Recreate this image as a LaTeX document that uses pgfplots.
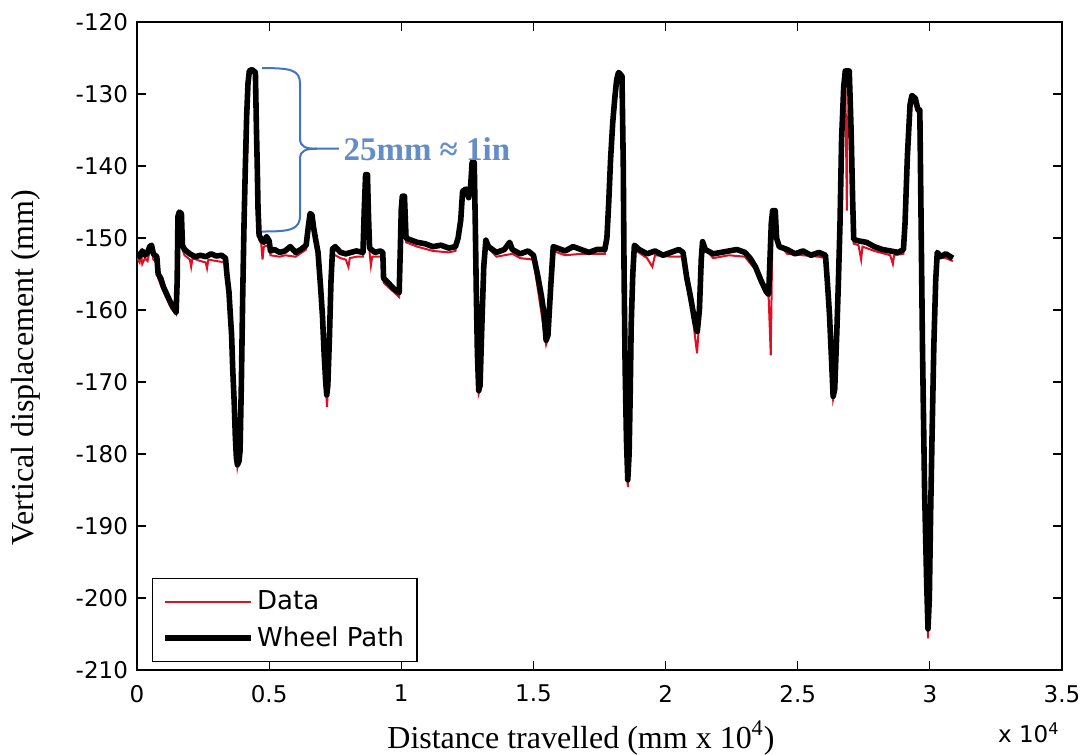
\documentclass[border=0pt]{standalone}
\usepackage{fontspec}
\setmainfont{Liberation Serif}
\newfontfamily\ticksf{DejaVu Sans}
\usepackage{pgfplots}
\usepackage{pgfplotstable}
\pgfplotsset{compat=1.18}
\definecolor{bracecol}{RGB}{70,115,190}
\definecolor{notecol}{RGB}{100,141,200}
\definecolor{datared}{RGB}{225,15,35}

\pgfplotstableread{
x y
0.000 -152.8
0.010 -153.4
0.015 -152.2
0.020 -153.6
0.030 -152.8
0.040 -153.2
0.048 -151.8
0.055 -151.6
0.062 -153.0
0.075 -153.4
0.080 -155.6
0.100 -157.4
0.130 -159.8
0.148 -160.6
0.152 -156.0
0.155 -147.2
0.160 -146.8
0.168 -147.0
0.172 -151.6
0.180 -152.4
0.200 -153.0
0.205 -154.0
0.210 -152.8
0.240 -153.2
0.260 -153.4
0.265 -154.2
0.270 -153.0
0.300 -153.2
0.335 -153.4
0.340 -155.4
0.352 -160.4
0.362 -168.4
0.372 -177.8
0.380 -181.8
0.390 -179.8
0.400 -158.2
0.410 -140.2
0.418 -138.0
0.420 -129.0
0.425 -127.2
0.435 -127.0
0.448 -127.4
0.455 -140.4
0.462 -150.2
0.470 -150.8
0.475 -153.0
0.480 -151.2
0.500 -151.0
0.505 -152.4
0.540 -152.6
0.560 -152.4
0.600 -152.6
0.640 -151.6
0.655 -147.0
0.662 -147.2
0.675 -150.4
0.685 -152.4
0.702 -161.4
0.714 -170.4
0.719 -173.5
0.722 -171.0
0.734 -156.4
0.740 -152.2
0.770 -152.8
0.790 -153.0
0.800 -154.0
0.805 -152.8
0.830 -152.6
0.855 -152.6
0.865 -141.6
0.872 -141.6
0.880 -152.0
0.885 -153.8
0.890 -152.6
0.930 -152.6
0.933 -156.2
0.992 -158.2
0.996 -152.4
1.004 -144.6
1.012 -144.6
1.018 -150.6
1.060 -151.2
1.120 -151.8
1.180 -152.0
1.205 -151.8
1.232 -144.0
1.262 -143.4
1.272 -139.8
1.280 -148.4
1.293 -171.6
1.298 -171.0
1.312 -154.4
1.320 -151.0
1.360 -152.6
1.420 -152.2
1.450 -152.8
1.500 -153.0
1.548 -164.8
1.555 -164.0
1.575 -151.8
1.620 -152.4
1.680 -152.2
1.740 -152.2
1.770 -152.2
1.800 -134.4
1.822 -127.4
1.835 -128.0
1.838 -138.0
1.840 -140.4
1.857 -184.6
1.866 -172.4
1.882 -151.6
1.930 -152.8
1.950 -154.0
1.960 -152.4
2.020 -152.6
2.066 -152.6
2.095 -158.8
2.119 -166.0
2.124 -163.4
2.135 -153.4
2.140 -151.0
2.180 -152.8
2.240 -152.4
2.300 -152.6
2.340 -154.4
2.380 -157.8
2.390 -158.2
2.398 -166.3
2.401 -158.0
2.405 -146.6
2.415 -146.6
2.420 -150.4
2.460 -152.2
2.520 -152.4
2.580 -152.6
2.605 -152.8
2.634 -172.4
2.640 -171.4
2.660 -148.4
2.674 -129.4
2.680 -127.2
2.684 -140.0
2.686 -146.2
2.688 -133.0
2.690 -136.0
2.695 -127.2
2.702 -135.4
2.712 -150.8
2.730 -151.0
2.740 -153.0
2.745 -151.2
2.790 -151.8
2.850 -152.4
2.860 -153.6
2.865 -152.4
2.900 -152.2
2.915 -139.0
2.932 -130.6
2.955 -132.6
2.966 -145.4
2.993 -205.6
3.003 -188.4
3.028 -152.6
3.060 -152.8
3.087 -153.2
}\datatable

\pgfplotstableread{
x y
0.000 -152.0
0.010 -152.6
0.020 -151.8
0.030 -152.4
0.040 -152.0
0.048 -151.2
0.055 -151.0
0.062 -152.2
0.075 -152.6
0.080 -155.0
0.090 -155.6
0.100 -156.8
0.115 -158.0
0.130 -159.2
0.140 -159.8
0.148 -160.3
0.152 -156.0
0.155 -147.0
0.160 -146.4
0.168 -146.6
0.172 -151.0
0.180 -151.6
0.200 -152.2
0.220 -152.6
0.240 -152.4
0.260 -152.6
0.280 -152.2
0.300 -152.5
0.320 -152.4
0.335 -152.8
0.340 -155.0
0.348 -157.5
0.352 -160.0
0.358 -163.5
0.362 -168.0
0.368 -173.0
0.372 -177.5
0.376 -180.5
0.380 -181.5
0.386 -181.0
0.390 -179.5
0.395 -170.0
0.400 -158.0
0.405 -148.0
0.410 -140.0
0.415 -133.0
0.420 -128.5
0.425 -126.8
0.435 -126.6
0.448 -127.0
0.452 -135.0
0.455 -140.0
0.458 -146.0
0.462 -149.6
0.470 -150.2
0.480 -150.6
0.490 -149.8
0.500 -150.4
0.505 -151.8
0.520 -151.6
0.540 -152.0
0.560 -151.8
0.580 -151.2
0.600 -152.0
0.620 -151.6
0.640 -151.0
0.648 -148.5
0.655 -146.6
0.662 -146.8
0.668 -148.5
0.675 -150.0
0.685 -152.0
0.695 -157.0
0.702 -161.0
0.708 -166.0
0.714 -170.0
0.718 -171.8
0.722 -170.5
0.728 -164.0
0.734 -156.0
0.740 -151.5
0.750 -151.2
0.770 -152.0
0.790 -152.2
0.810 -152.0
0.830 -151.8
0.855 -152.0
0.860 -146.0
0.865 -141.2
0.872 -141.2
0.876 -147.0
0.880 -151.4
0.900 -152.0
0.920 -151.8
0.930 -152.0
0.933 -155.6
0.950 -156.2
0.970 -157.0
0.985 -157.4
0.992 -157.6
0.996 -152.0
1.000 -146.0
1.004 -144.2
1.012 -144.2
1.018 -150.0
1.030 -150.2
1.060 -150.6
1.090 -150.8
1.120 -151.2
1.150 -151.0
1.180 -151.4
1.205 -151.2
1.215 -150.0
1.225 -147.5
1.232 -143.5
1.245 -143.2
1.255 -144.4
1.262 -143.0
1.268 -139.5
1.276 -139.5
1.280 -148.0
1.284 -158.0
1.288 -166.0
1.293 -171.2
1.298 -170.5
1.305 -162.0
1.312 -154.0
1.320 -150.3
1.330 -151.2
1.360 -152.0
1.390 -151.6
1.410 -150.6
1.420 -151.6
1.450 -152.2
1.480 -151.8
1.500 -152.4
1.515 -155.0
1.530 -158.0
1.540 -160.5
1.548 -164.2
1.555 -163.5
1.565 -157.0
1.575 -151.2
1.590 -151.4
1.620 -151.8
1.650 -151.2
1.680 -151.6
1.710 -152.0
1.740 -151.6
1.770 -151.6
1.778 -150.0
1.785 -145.0
1.792 -139.0
1.800 -134.0
1.808 -130.5
1.815 -128.0
1.822 -127.0
1.835 -127.5
1.840 -140.0
1.843 -155.0
1.847 -168.0
1.852 -178.0
1.857 -183.6
1.862 -180.0
1.866 -172.0
1.870 -162.0
1.876 -155.0
1.882 -151.0
1.900 -151.6
1.930 -152.2
1.960 -151.8
1.990 -152.4
2.020 -152.0
2.050 -151.6
2.066 -152.0
2.080 -155.5
2.095 -158.3
2.110 -161.5
2.120 -163.0
2.128 -160.0
2.135 -153.0
2.140 -150.5
2.150 -151.6
2.180 -152.2
2.210 -152.0
2.240 -151.8
2.270 -151.6
2.300 -152.0
2.320 -152.8
2.340 -154.0
2.360 -155.8
2.380 -157.4
2.390 -157.8
2.395 -153.0
2.400 -148.0
2.405 -146.2
2.415 -146.2
2.420 -150.0
2.430 -151.2
2.460 -151.6
2.490 -152.2
2.520 -151.8
2.550 -152.4
2.580 -152.0
2.605 -152.4
2.612 -156.0
2.620 -160.5
2.628 -167.0
2.634 -172.0
2.640 -171.0
2.648 -163.0
2.654 -156.0
2.660 -148.0
2.666 -136.3
2.674 -129.0
2.680 -126.8
2.695 -126.8
2.702 -135.0
2.708 -145.0
2.712 -150.2
2.730 -150.4
2.760 -150.6
2.790 -151.2
2.820 -151.6
2.850 -151.8
2.880 -152.0
2.900 -151.6
2.906 -148.0
2.915 -138.6
2.925 -131.5
2.932 -130.2
2.945 -130.6
2.955 -132.2
2.962 -132.2
2.966 -145.0
2.972 -165.0
2.980 -185.0
2.988 -198.0
2.993 -204.3
2.998 -200.0
3.003 -188.0
3.008 -178.0
3.015 -165.0
3.022 -156.0
3.028 -152.0
3.040 -152.6
3.060 -152.2
3.087 -152.8
}\wheeltable

\begin{document}
\begin{tikzpicture}
\begin{axis}[
  scale only axis,
  width=462.5pt, height=324pt,
  xmin=0, xmax=3.5, ymin=-210, ymax=-120,
  xtick={0,0.5,1,1.5,2,2.5,3,3.5},
  ytick={-210,-200,-190,-180,-170,-160,-150,-140,-130,-120},
  xticklabels={0,0.5,1,1.5,2,2.5,3,3.5},
  tick align=inside,
  xtick pos=both, ytick pos=both,
  major tick length=4.5pt,
  tick style={black, line width=0.6pt},
  axis line style={black, line width=0.7pt},
  /pgf/number format/assume math mode=true,
  ticklabel style={font=\ticksf\fontsize{11.5}{14}\selectfont},
  xticklabel style={yshift=-4pt},
  yticklabel style={xshift=-1pt},
  xlabel={Distance travelled (mm x 10\textsuperscript{4})},
  ylabel={Vertical displacement (mm)},
  label style={font=\fontsize{16}{19}\selectfont},
  xlabel style={at={(rel axis cs:0.48,0)}, anchor=north, yshift=-22pt},
  ylabel style={at={(rel axis cs:0,0.467)}, anchor=south, yshift=45pt},
  legend style={at={(rel axis cs:0,0)}, anchor=south west, xshift=7.5pt, yshift=4pt,
    font=\ticksf\fontsize{13}{15}\selectfont, draw=black, line width=0.6pt,
    inner xsep=5pt, inner ysep=4pt, row sep=3pt, legend cell align=left,
    nodes={inner xsep=1.5pt}},
  legend image code/.code={\draw[#1] (0pt,0pt) -- (43pt,0pt);},
]
\addplot[color=datared, line width=1pt] table[x=x,y=y] {\datatable};
\addlegendentry{Data}
\addplot[color=black, line width=2.8pt, line join=round] table[x=x,y=y] {\wheeltable};
\addlegendentry{Wheel Path}

\draw[bracecol, line width=1pt]
  (axis cs:0.473,-126.4) .. controls (axis cs:0.58,-126.4) and (axis cs:0.617,-126.6) .. (axis cs:0.617,-128.6)
  -- (axis cs:0.617,-136.2) .. controls (axis cs:0.617,-137.4) and (axis cs:0.64,-137.6) .. (axis cs:0.681,-137.6)
  -- (axis cs:0.764,-137.6);
\draw[bracecol, line width=1pt]
  (axis cs:0.681,-137.6) .. controls (axis cs:0.64,-137.6) and (axis cs:0.617,-137.8) .. (axis cs:0.617,-139.0)
  -- (axis cs:0.617,-146.8) .. controls (axis cs:0.617,-148.9) and (axis cs:0.58,-149.1) .. (axis cs:0.473,-149.1);
\node[anchor=west, text=notecol, font=\bfseries\fontsize{16.5}{19}\selectfont, inner sep=0pt]
  at (axis cs:0.78,-137.6) {25mm ≈ 1in};
\end{axis}
\node[anchor=north east, font=\ticksf\fontsize{11.5}{13}\selectfont, inner sep=0pt]
  at ([yshift=-26pt,xshift=-1pt]current axis.south east) {x 10\textsuperscript{4}};
\pgfresetboundingbox
\path[use as bounding box] ([shift={(-68.5pt,-42.5pt)}]current axis.south west) rectangle ([shift={(9pt,11pt)}]current axis.north east);
\end{tikzpicture}
\end{document}
